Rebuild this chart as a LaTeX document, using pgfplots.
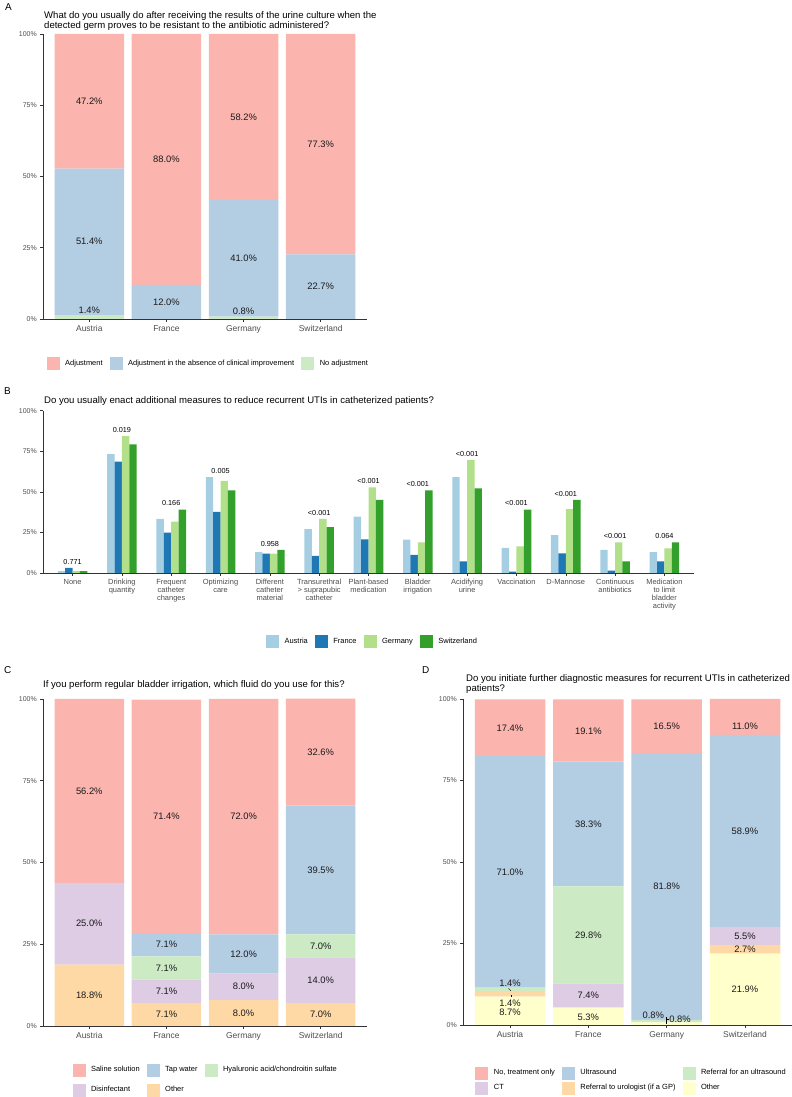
\documentclass[border=0pt]{standalone}
\usepackage{pgfplots}
\pgfplotsset{compat=1.18}
\usetikzlibrary{calc}
\usepackage{fontspec}
\setmainfont{Liberation Sans}
\definecolor{pRed}{HTML}{FBB4AE}
\definecolor{pBlue}{HTML}{B3CDE3}
\definecolor{pGreen}{HTML}{CCEBC5}
\definecolor{pPurple}{HTML}{DECBE4}
\definecolor{pOrange}{HTML}{FED9A6}
\definecolor{pYellow}{HTML}{FFFFCC}
\definecolor{qA}{HTML}{A6CEE3}
\definecolor{qF}{HTML}{1F78B4}
\definecolor{qG}{HTML}{B2DF8A}
\definecolor{qS}{HTML}{33A02C}
\definecolor{axgray}{HTML}{333333}
\definecolor{tkgray}{HTML}{4D4D4D}
\definecolor{lblc}{HTML}{1A1A1A}
\newcommand{\ttlf}{\fontsize{9.6}{10.5}\selectfont}
\newcommand{\lblf}{\fontsize{9.4}{10}\selectfont}
\newcommand{\legf}{\fontsize{7.5}{8.5}\selectfont}
\newcommand{\ytf}{\fontsize{7}{8}\selectfont}
\newcommand{\xtf}{\fontsize{8.5}{9}\selectfont}
\newcommand{\xtbf}{\fontsize{7.5}{8.1}\selectfont}
\newcommand{\pvf}{\fontsize{7.3}{8}\selectfont}
\newcommand{\panf}{\fontsize{10}{12}\selectfont}
\pgfplotsset{
  sqleg/.style={legend image code/.code={\fill[##1] (0bp,-6.5bp) rectangle (13bp,6.5bp);}},
  base/.style={
    scale only axis, enlargelimits=false,
    axis x line*=bottom, axis y line*=left,
    axis line style={draw=axgray, line width=0.7bp},
    tick style={draw=axgray, line width=0.5bp},
    tick align=outside, major tick length=2.75bp,
    ymin=0, ymax=100,
    ytick={0,25,50,75,100},
    yticklabels={0\%,25\%,50\%,75\%,100\%},
    yticklabel style={font=\ytf, text=tkgray},
    xticklabel style={text=tkgray},
    legend cell align=left,
    legend style={draw=none, fill=none, inner sep=0pt, font=\legf,
      nodes={inner sep=0.5bp},
      /tikz/every odd column/.append style={column sep=5bp},
      /tikz/every even column/.append style={column sep=6.5bp}},
  },
}
\tikzset{lb/.style={font=\lblf, text=lblc}}
\newcommand{\axframe}[1]{\coordinate (#1o) at (axis cs:0,0); \coordinate (#1x) at (axis cs:1,0); \coordinate (#1y) at (axis cs:0,1);}
\begin{document}
\begin{tikzpicture}
\useasboundingbox (0,0) rectangle (792bp,1097bp);
% ---------- Panel A ----------
\node[anchor=base west, font=\panf, inner sep=0pt] at (5bp,1086bp) {A};
\node[anchor=base west, font=\ttlf, inner sep=0pt] at (44bp,1078.5bp) {What do you usually do after receiving the results of the urine culture when the};
\node[anchor=base west, font=\ttlf, inner sep=0pt] at (44bp,1068.5bp) {detected germ proves to be resistant to the antibiotic administered?};
\begin{axis}[base, at={(43bp,778bp)}, anchor=south west,
  width=324bp, height=285bp, xmin=-0.6, xmax=3.6,
  ybar stacked, bar width=0.9,
  xtick={0,1,2,3}, xticklabels={Austria,France,Germany,Switzerland},
  xticklabel style={font=\xtf},
  every axis plot/.append style={sqleg},
  reverse legend, legend columns=-1,
  legend style={at={(0.508,0)}, anchor=center, yshift=-45bp}]
\addplot[fill=pGreen, draw=none] coordinates {(0,1.4) (1,0) (2,0.8) (3,0)};
\addplot[fill=pBlue, draw=none] coordinates {(0,51.4) (1,12.0) (2,41.0) (3,22.7)};
\addplot[fill=pRed, draw=none] coordinates {(0,47.2) (1,88.0) (2,58.2) (3,77.3)};
\legend{No adjustment, Adjustment in the absence of clinical improvement, Adjustment}
\axframe{A}
\end{axis}
\begin{scope}[shift={(Ao)}, x={($(Ax)-(Ao)$)}, y={($(Ay)-(Ao)$)}]
\node[lb] at (0,76.4) {47.2\%};
\node[lb] at (0,27.1) {51.4\%};
\node[lb] at (0,3.2) {1.4\%};
\node[lb] at (1,56.0) {88.0\%};
\node[lb] at (1,6.0) {12.0\%};
\node[lb] at (2,70.9) {58.2\%};
\node[lb] at (2,21.3) {41.0\%};
\node[lb] at (2,2.8) {0.8\%};
\node[lb] at (3,61.35) {77.3\%};
\node[lb] at (3,11.35) {22.7\%};
\end{scope}
% ---------- Panel B ----------
\node[anchor=base west, font=\panf, inner sep=0pt] at (4bp,702bp) {B};
\node[anchor=base west, font=\ttlf, inner sep=0pt] at (44bp,693.5bp) {Do you usually enact additional measures to reduce recurrent UTIs in catheterized patients?};
\begin{axis}[base, at={(43bp,524bp)}, anchor=south west,
  width=651bp, height=162.3bp, xmin=-0.6, xmax=12.6,
  ybar=0pt, bar width=0.15,
  xtick={0,1,2,3,4,5,6,7,8,9,10,11,12},
  xticklabels={None, {Drinking\\quantity}, {Frequent\\catheter\\changes}, {Optimizing\\care}, {Different\\catheter\\material}, {Transurethral\\> suprapubic\\catheter}, {Plant-based\\medication}, {Bladder\\irrigation}, {Acidifying\\urine}, Vaccination, D-Mannose, {Continuous\\antibiotics}, {Medication\\to limit\\bladder\\activity}},
  xticklabel style={font=\xtbf, align=center},
  every axis plot/.append style={sqleg},
  legend columns=-1,
  legend style={at={(0.505,0)}, anchor=center, yshift=-69bp}]
\addplot[fill=qA, draw=none, bar shift=-0.225] coordinates {(0,1.2) (1,73.3) (2,33.3) (3,59.1) (4,12.9) (5,27.1) (6,34.7) (7,20.5) (8,59.1) (9,15.4) (10,23.4) (11,14.2) (12,12.9)};
\addplot[fill=qF, draw=none, bar shift=-0.075] coordinates {(0,3.1) (1,68.6) (2,24.8) (3,37.6) (4,11.9) (5,10.5) (6,20.7) (7,11.1) (8,7.2) (9,0.8) (10,12.1) (11,1.4) (12,7.2)};
\addplot[fill=qG, draw=none, bar shift=0.075] coordinates {(0,1.2) (1,84.4) (2,31.6) (3,56.7) (4,11.9) (5,33.3) (6,52.8) (7,18.9) (8,69.6) (9,16.4) (10,39.4) (11,18.9) (12,15.2)};
\addplot[fill=qS, draw=none, bar shift=0.225] coordinates {(0,1.2) (1,79.3) (2,39.0) (3,50.9) (4,14.2) (5,28.3) (6,45.0) (7,50.9) (8,52.2) (9,39.0) (10,45.0) (11,7.2) (12,18.9)};
\legend{Austria, France, Germany, Switzerland}
\axframe{B}
\end{axis}
\begin{scope}[shift={(Bo)}, x={($(Bx)-(Bo)$)}, y={($(By)-(Bo)$)}, every node/.style={font=\pvf, anchor=base, yshift=3.7bp}]
\node at (0,3.1) {0.771};
\node at (1,84.4) {0.019};
\node at (2,39.0) {0.166};
\node at (3,59.1) {0.005};
\node at (4,14.2) {0.958};
\node at (5,33.3) {<0.001};
\node at (6,52.8) {<0.001};
\node at (7,50.9) {<0.001};
\node at (8,69.6) {<0.001};
\node at (9,39.0) {<0.001};
\node at (10,45.0) {<0.001};
\node at (11,18.9) {<0.001};
\node at (12,18.9) {0.064};
\end{scope}
% ---------- Panel C ----------
\node[anchor=base west, font=\panf, inner sep=0pt] at (4bp,423bp) {C};
\node[anchor=base west, font=\ttlf, inner sep=0pt] at (43bp,409bp) {If you perform regular bladder irrigation, which fluid do you use for this?};
\begin{axis}[base, at={(43bp,71bp)}, anchor=south west,
  width=324bp, height=327bp, xmin=-0.6, xmax=3.6,
  ybar stacked, bar width=0.9,
  xtick={0,1,2,3}, xticklabels={Austria,France,Germany,Switzerland},
  xticklabel style={font=\xtf},
  every axis plot/.append style={sqleg},
  reverse legend, legend columns=3,
  legend style={at={(0.5,0)}, anchor=center, yshift=-54bp, row sep=7bp}]
\addplot[fill=pOrange, draw=none] coordinates {(0,18.8) (1,7.1) (2,8.0) (3,7.0)};
\addplot[fill=pPurple, draw=none] coordinates {(0,25.0) (1,7.1) (2,8.0) (3,14.0)};
\addplot[fill=pGreen, draw=none] coordinates {(0,0) (1,7.1) (2,0) (3,7.0)};
\addplot[fill=pBlue, draw=none] coordinates {(0,0) (1,7.1) (2,12.0) (3,39.5)};
\addplot[fill=pRed, draw=none] coordinates {(0,56.2) (1,71.4) (2,72.0) (3,32.6)};
\legend{Other, Disinfectant, Hyaluronic acid/chondroitin sulfate, Tap water, Saline solution}
\axframe{C}
\end{axis}
\begin{scope}[shift={(Co)}, x={($(Cx)-(Co)$)}, y={($(Cy)-(Co)$)}]
\node[lb] at (0,9.4) {18.8\%};
\node[lb] at (0,31.3) {25.0\%};
\node[lb] at (0,71.9) {56.2\%};
\node[lb] at (1,3.55) {7.1\%};
\node[lb] at (1,10.65) {7.1\%};
\node[lb] at (1,17.75) {7.1\%};
\node[lb] at (1,24.85) {7.1\%};
\node[lb] at (1,64.1) {71.4\%};
\node[lb] at (2,4.0) {8.0\%};
\node[lb] at (2,12.0) {8.0\%};
\node[lb] at (2,22.0) {12.0\%};
\node[lb] at (2,64.0) {72.0\%};
\node[lb] at (3,3.5) {7.0\%};
\node[lb] at (3,14.0) {14.0\%};
\node[lb] at (3,24.5) {7.0\%};
\node[lb] at (3,47.75) {39.5\%};
\node[lb] at (3,83.8) {32.6\%};
\end{scope}
% ---------- Panel D ----------
\node[anchor=base west, font=\panf, inner sep=0pt] at (422bp,423bp) {D};
\node[anchor=base west, font=\ttlf, inner sep=0pt] at (466bp,415bp) {Do you initiate further diagnostic measures for recurrent UTIs in catheterized};
\node[anchor=base west, font=\ttlf, inner sep=0pt] at (466bp,405.5bp) {patients?};
\begin{axis}[base, at={(463bp,72bp)}, anchor=south west,
  width=329bp, height=326bp, xmin=-0.6, xmax=3.6,
  ybar stacked, bar width=0.9,
  xtick={0,1,2,3}, xticklabels={Austria,France,Germany,Switzerland},
  xticklabel style={font=\xtf},
  every axis plot/.append style={sqleg},
  reverse legend, legend columns=3,
  legend style={at={(0.51,0)}, anchor=center, yshift=-55.5bp, row sep=2bp}]
\addplot[fill=pYellow, draw=none] coordinates {(0,8.7) (1,5.3) (2,0.8) (3,21.9)};
\addplot[fill=pOrange, draw=none] coordinates {(0,1.4) (1,0) (2,0) (3,2.7)};
\addplot[fill=pPurple, draw=none] coordinates {(0,0) (1,7.4) (2,0) (3,5.5)};
\addplot[fill=pGreen, draw=none] coordinates {(0,1.4) (1,29.8) (2,0.8) (3,0)};
\addplot[fill=pBlue, draw=none] coordinates {(0,71.0) (1,38.3) (2,81.8) (3,58.9)};
\addplot[fill=pRed, draw=none] coordinates {(0,17.4) (1,19.1) (2,16.5) (3,11.0)};
\legend{Other, Referral to urologist (if a GP), CT, Referral for an ultrasound, Ultrasound, {No, treatment only}}
\axframe{D}
\end{axis}
\begin{scope}[shift={(Do)}, x={($(Dx)-(Do)$)}, y={($(Dy)-(Do)$)}]
\node[lb] at (0,4.0) {8.7\%};
\node[lb] at (0,6.75) {1.4\%};
\node[lb] at (0,12.9) {1.4\%};
\draw[line width=0.4bp] (-0.02,11.25) -- (0.01,10.5);
\draw[line width=0.4bp] (0.02,9.2) -- (0.02,8.5);
\node[lb] at (0,47.0) {71.0\%};
\node[lb] at (0,91.0) {17.4\%};
\node[lb] at (1,2.5) {5.3\%};
\node[lb] at (1,9.0) {7.4\%};
\node[lb] at (1,27.6) {29.8\%};
\node[lb] at (1,61.65) {38.3\%};
\node[lb] at (1,90.2) {19.1\%};
\node[lb] at (1.83,3.07) {0.8\%};
\node[lb] at (2.17,1.84) {0.8\%};
\draw[line width=0.4bp] (2.0,0.4) -- (2.0,2.5);
\draw[line width=0.4bp] (2.0,1.75) -- (2.03,1.75);
\node[lb] at (2,42.5) {81.8\%};
\node[lb] at (2,91.5) {16.5\%};
\node[lb] at (3,10.95) {21.9\%};
\node[lb] at (3,23.25) {2.7\%};
\node[lb] at (3,27.35) {5.5\%};
\node[lb] at (3,59.55) {58.9\%};
\node[lb] at (3,91.5) {11.0\%};
\end{scope}
\end{tikzpicture}
\end{document}
